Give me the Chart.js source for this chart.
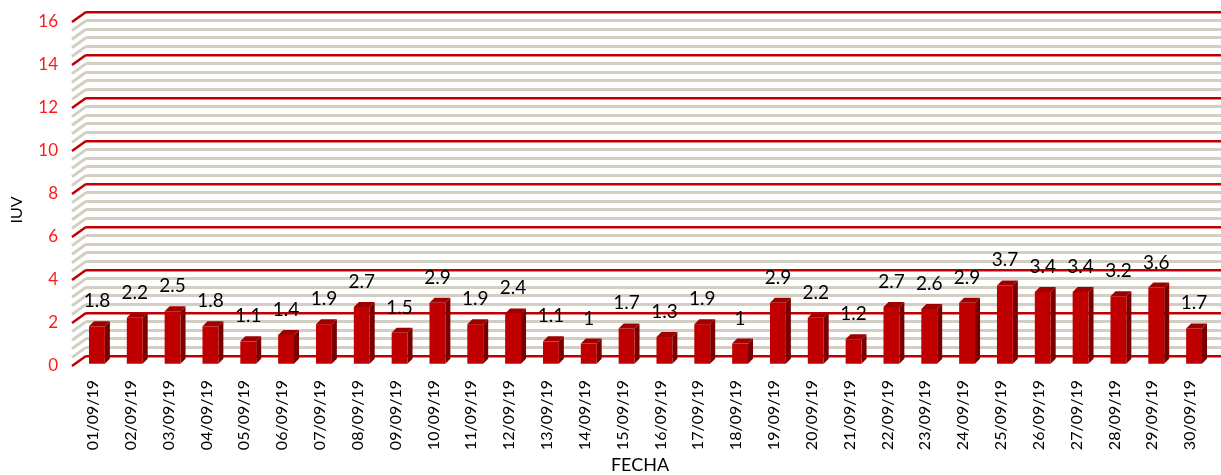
<!DOCTYPE html>
<html>
<head>
<meta charset="utf-8">
<script src="https://cdn.jsdelivr.net/npm/chart.js@4"></script>
<style>
  html, body { margin: 0; padding: 0; background: #fff; }
  #wrap { width: 1221px; height: 475px; }
</style>
</head>
<body>
<div id="wrap"><canvas id="iuv"></canvas></div>
<script>
const fechas = ['01/09/19','02/09/19','03/09/19','04/09/19','05/09/19','06/09/19','07/09/19','08/09/19','09/09/19','10/09/19',
  '11/09/19','12/09/19','13/09/19','14/09/19','15/09/19','16/09/19','17/09/19','18/09/19','19/09/19','20/09/19',
  '21/09/19','22/09/19','23/09/19','24/09/19','25/09/19','26/09/19','27/09/19','28/09/19','29/09/19','30/09/19'];
const valoresIUV = [1.8, 2.2, 2.5, 1.8, 1.1, 1.4, 1.9, 2.7, 1.5, 2.9,
  1.9, 2.4, 1.1, 1, 1.7, 1.3, 1.9, 1, 2.9, 2.2,
  1.2, 2.7, 2.6, 2.9, 3.7, 3.4, 3.4, 3.2, 3.6, 1.7];
const yMin = 0, yMax = 16, yMajor = 2, yMinor = 0.4;

const FONT = 'Lato, "Open Sans", sans-serif';
const RED = '#C00000';
const GREY = '#D3CEC2';

// front plane offset of the 3d floor / bars
const floorDx = 14, floorDy = 10;
const barDx = -8, barDy = 9, barDepth = 5;

function isMajor(v) {
  return Math.abs(v / yMajor - Math.round(v / yMajor)) < 1e-6;
}

const fake3d = {
  id: 'fake3d',
  beforeDatasetsDraw(chart) {
    const ctx = chart.ctx;
    const ys = chart.scales.y;
    const left = chart.chartArea.left;
    // diagonal ends of the gridlines (side wall)
    ys.ticks.forEach(t => {
      const py = ys.getPixelForValue(t.value);
      ctx.save();
      ctx.strokeStyle = isMajor(t.value) ? RED : GREY;
      ctx.lineWidth = isMajor(t.value) ? 2.5 : 3;
      ctx.beginPath();
      ctx.moveTo(left - floorDx, py + floorDy);
      ctx.lineTo(left, py);
      ctx.stroke();
      ctx.restore();
    });

    ctx.save();
    ctx.translate(barDx, barDy);
    const meta = chart.getDatasetMeta(0);
    meta.data.forEach(bar => {
      const x0 = bar.x - bar.width / 2, x1 = bar.x + bar.width / 2;
      const yt = bar.y, yb = bar.base;
      // side
      ctx.fillStyle = '#7A0000';
      ctx.beginPath();
      ctx.moveTo(x1, yt); ctx.lineTo(x1 + barDepth, yt - barDepth);
      ctx.lineTo(x1 + barDepth, yb - barDepth); ctx.lineTo(x1, yb);
      ctx.closePath(); ctx.fill();
      // top
      ctx.fillStyle = '#9E0000';
      ctx.beginPath();
      ctx.moveTo(x0, yt); ctx.lineTo(x0 + barDepth, yt - barDepth);
      ctx.lineTo(x1 + barDepth, yt - barDepth); ctx.lineTo(x1, yt);
      ctx.closePath(); ctx.fill();
    });
  },
  afterDatasetsDraw(chart) {
    const ctx = chart.ctx;
    const meta = chart.getDatasetMeta(0);
    // value labels
    ctx.fillStyle = '#000';
    ctx.font = '19px ' + FONT;
    ctx.textAlign = 'center';
    ctx.textBaseline = 'alphabetic';
    meta.data.forEach((bar, i) => {
      ctx.fillText(String(valoresIUV[i]), bar.x, bar.y - 19);
    });
    ctx.restore();

    // axis titles (placed on the front plane, like the original)
    ctx.save();
    ctx.fillStyle = '#000';
    ctx.textAlign = 'center';
    ctx.textBaseline = 'middle';
    ctx.font = '18px ' + FONT;
    ctx.fillText('FECHA', 640, 465);
    ctx.translate(17, 210);
    ctx.rotate(-Math.PI / 2);
    ctx.font = '16px ' + FONT;
    ctx.fillText('IUV', 0, 0);
    ctx.restore();
  }
};

const config = {
  type: 'bar',
  data: {
    labels: fechas,
    datasets: [{
      data: valoresIUV,
      backgroundColor: RED,
      borderWidth: 0,
      barPercentage: 0.42,
      categoryPercentage: 1
    }]
  },
  options: {
    responsive: true,
    maintainAspectRatio: false,
    animation: false,
    layout: { padding: { top: 12, right: 0, bottom: 0, left: 0 } },
    scales: {
      x: {
        grid: { display: false, drawTicks: false },
        border: { display: false },
        ticks: {
          color: '#000',
          font: { family: FONT, size: 16 },
          minRotation: 90, maxRotation: 90,
          autoSkip: false,
          padding: 24,
          labelOffset: -12
        },
        afterFit(scale) {
          scale.height = 119;
          scale.paddingLeft = 0; scale.paddingRight = 0;
        }
      },
      y: {
        min: yMin, max: yMax,
        border: { display: false },
        grid: {
          drawTicks: false,
          color: c => isMajor(c.tick.value) ? RED : GREY,
          lineWidth: c => isMajor(c.tick.value) ? 2.5 : 3
        },
        ticks: {
          stepSize: yMinor,
          autoSkip: false,
          color: '#FF1A1A',
          font: { family: FONT, size: 17 },
          padding: 28,
          labelOffset: 10,
          callback: v => isMajor(v) ? String(Math.round(v)) : ''
        },
        afterFit(scale) {
          scale.width = 86;
          scale.paddingTop = 0; scale.paddingBottom = 0;
        }
      }
    },
    plugins: {
      legend: { display: false },
      tooltip: { enabled: false }
    }
  },
  plugins: [fake3d]
};

new Chart(document.getElementById('iuv'), config);
</script>
</body>
</html>
